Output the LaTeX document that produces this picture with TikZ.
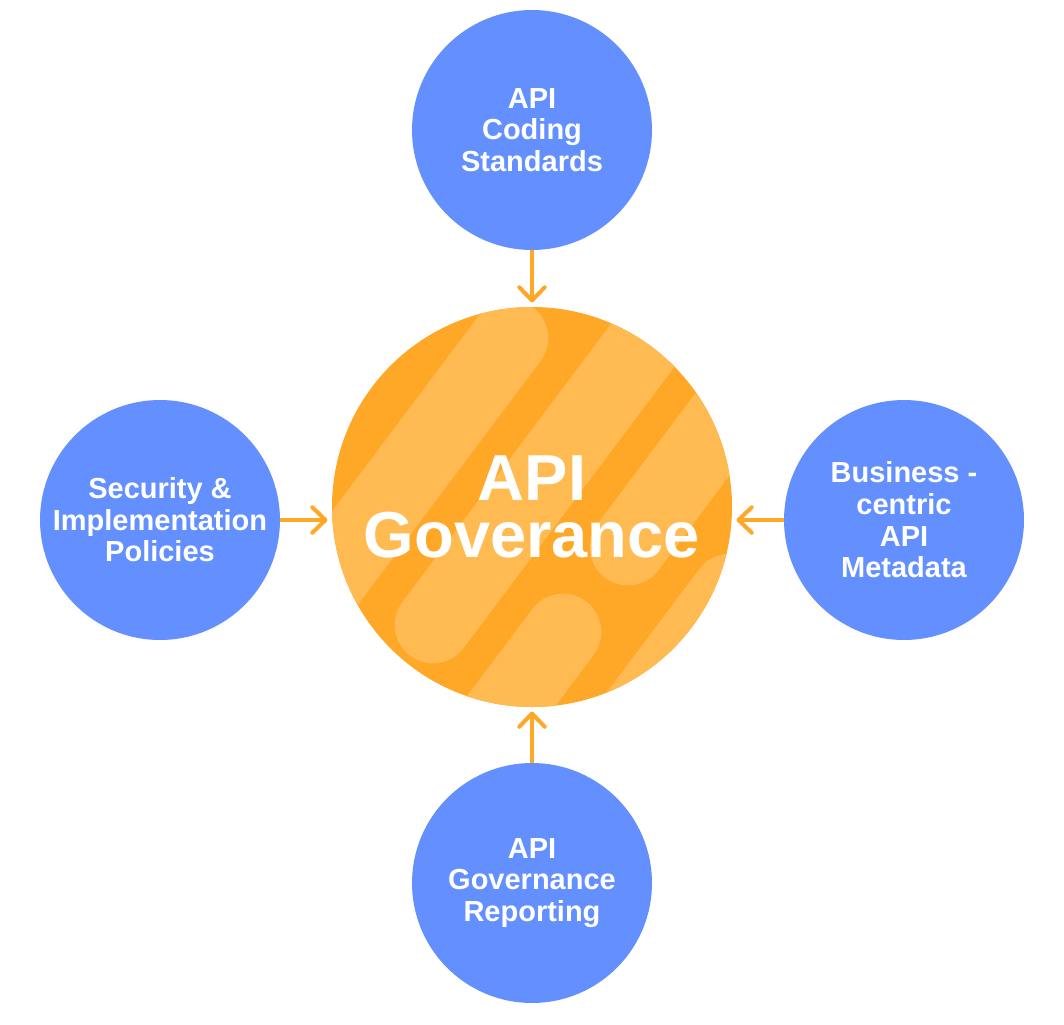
\documentclass[tikz,border=0pt]{standalone}
\usepackage{fontspec}
\setmainfont{Liberation Sans}
\usetikzlibrary{arrows.meta}
\definecolor{apiblue}{RGB}{99,143,255}
\definecolor{govorange}{RGB}{255,167,38}
\definecolor{govlight}{RGB}{255,186,82}

\begin{document}
\begin{tikzpicture}[x=0.02cm, y=-0.02cm,
  arrow/.style={-{Straight Barb[length=7.5pt,width=14.5pt,round]}, line width=2.3pt,
                draw=govorange, shorten >=2.6pt},
  topic/.style={circle, fill=apiblue, minimum size=4.8cm, inner sep=0pt, outer sep=0pt,
                text=white, align=center,
                font=\fontsize{16.5pt}{18pt}\selectfont\bfseries},
  hub/.style={circle, minimum size=8cm, inner sep=0pt, outer sep=0pt,
              text=white, align=center,
              font=\fontsize{37pt}{32pt}\selectfont\bfseries},
  stripe/.style={draw=govlight, line width=1.533cm, line cap=round},
]
  \useasboundingbox (0,0) rectangle (1064,1024);

  % ---- Central hub with stripes ----
  \fill[govorange] (532,507) circle[radius=200];
  \begin{scope}
    \clip (532,507) circle[radius=200];
    \draw[stripe] (510,338) -- (270,658);
    \draw[stripe] (433,625) -- (673,305);
    \draw[stripe] (628,547) -- (868,227);
    \draw[stripe] (563,632) -- (323,952);
    \draw[stripe] (730,592) -- (490,912);
  \end{scope}
  \node[hub] (gov) at (532,507) {API\\Goverance};

  % ---- Surrounding topics ----
  \node[topic] (coding)    at (532,130) {API\\Coding\\Standards};
  \node[topic] (security)  at (160,520) {Security \&\\Implementation\\Policies};
  \node[topic] (business)  at (904,520) {Business -\\centric\\API\\Metadata};
  \node[topic] (reporting) at (532,883) {API\\Governance\\Reporting};

  % ---- Arrows into the hub ----
  \draw[arrow] (coding) -- (gov);
  \draw[arrow] (security) -- (security -| gov.west);
  \draw[arrow] (business) -- (business -| gov.east);
  \draw[arrow] (reporting) -- (gov);
\end{tikzpicture}
\end{document}
